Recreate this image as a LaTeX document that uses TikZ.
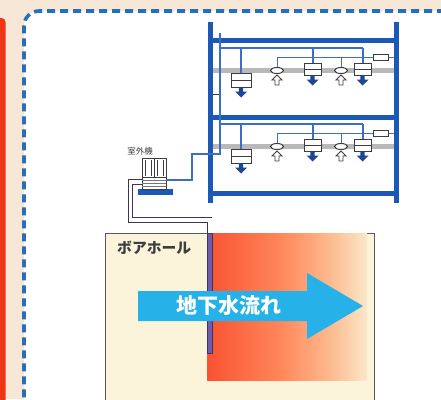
\documentclass[tikz,border=0pt]{standalone}
\usepackage{fontspec}
\newfontfamily\jp{Noto Sans CJK JP}
\definecolor{bgbeige}{RGB}{247,231,214}
\definecolor{barred}{RGB}{240,52,22}
\definecolor{frameblue}{RGB}{40,110,185}
\definecolor{bldblue}{RGB}{28,88,182}
\definecolor{feedblue}{RGB}{60,110,200}
\definecolor{unitgray}{RGB}{60,60,65}
\definecolor{arrowblue}{RGB}{28,70,150}
\definecolor{bandgray}{RGB}{185,185,188}
\definecolor{holefill}{RGB}{251,244,218}
\definecolor{holeline}{RGB}{90,90,90}
\definecolor{pipepurple}{RGB}{112,92,175}
\definecolor{pipeedge}{RGB}{60,55,90}
\definecolor{flowcyan}{RGB}{38,178,232}
\definecolor{heatA}{RGB}{250,82,50}
\definecolor{heatB}{RGB}{255,135,90}
\definecolor{heatC}{RGB}{253,188,145}
\definecolor{heatD}{RGB}{250,232,202}
\pgfdeclarehorizontalshading{heat}{100bp}{color(0bp)=(heatA); color(25bp)=(heatA);
  color(48bp)=(heatB); color(64bp)=(heatC); color(75bp)=(heatD); color(100bp)=(heatD)}
\tikzset{
  beam/.style={draw=bldblue, line width=5},
  column/.style={draw=bldblue, line width=4.5},
  feed/.style={draw=feedblue, line width=1.1},
  band/.style={draw=bandgray, line width=5},
  unitbox/.style={draw=unitgray, fill=white, line width=1},
  dnarrow/.pic={\fill[arrowblue] (-2.2,0) -- (2.2,0) -- (2.2,4) -- (6,4) -- (0,10) -- (-6,4) -- (-2.2,4) -- cycle;},
  uparrow/.pic={\draw[unitgray, fill=white, line width=0.8] (-2,10) -- (2,10) -- (2,5) -- (5,5) -- (0,0) -- (-5,5) -- (-2,5) -- cycle;},
}
\begin{document}
\begin{tikzpicture}[x=1pt,y=-1pt]
\useasboundingbox (0,0) rectangle (441,399);
% page background, side bar and dashed panel
\fill[bgbeige] (0,0) rectangle (441,399);
\fill[barred, rounded corners=4] (-6,18) rectangle (5.5,410);
\fill[white, rounded corners=15] (24,11) rectangle (460,420);
\draw[frameblue, line width=3.6, dash pattern=on 8 off 5, rounded corners=15] (445,11) -- (24,11) -- (24,405);

% borehole ground block with heat plume
\draw[holeline, fill=holefill, line width=0.8] (105,233) rectangle (374,410);
\shade[shading=heat] (207,233.4) rectangle (367,380);
\node[anchor=west, text=unitgray, font=\jp\bfseries\fontsize{14.8}{15}\selectfont, inner sep=0] (hole) at (117,248) {ボアホール};

% building floors
\foreach \d in {0,76}{
  \begin{scope}[shift={(0,\d)}]
    \draw[band] (213,70.5) -- (394,70.5);
    \draw[feed] (220,48) -- (363,48);
    \draw[feed] (241,48) -- (241,73);
    \draw[feed] (313,48) -- (313,63);
    \draw[feed] (363,48) -- (363,63);
    \draw[feed, line width=0.8] (277,57) -- (394,57);
    \draw[feed, line width=0.8] (277,57) -- (277,68);
    \draw[feed, line width=0.8] (341,57) -- (341,68);
    \draw[unitbox] (373,54) rectangle (388,60);
    % ceiling cassettes
    \draw[unitbox] (231,73) rectangle (251,87);
    \draw[unitgray, line width=0.8] (231,80) -- (251,80);
    \pic at (241,87.5) {dnarrow};
    \draw[unitbox] (304,63) rectangle (321,75);
    \draw[unitgray, line width=0.8] (304,69) -- (321,69);
    \pic at (312.5,75.5) {dnarrow};
    \draw[unitbox] (354,63) rectangle (371,75);
    \draw[unitgray, line width=0.8] (354,69) -- (371,69);
    \pic at (362.5,75.5) {dnarrow};
    % return grilles
    \draw[unitbox] (277,70.5) ellipse [x radius=6.5, y radius=3];
    \pic at (277,75) {uparrow};
    \draw[unitbox] (341,70.5) ellipse [x radius=6.5, y radius=3];
    \pic at (341,75) {uparrow};
  \end{scope}
}
\draw[column] (210.5,22) -- (210.5,203);
\draw[column] (396.5,22) -- (396.5,203);
\foreach \y in {40,117,193} \draw[beam] (210.5,\y) -- (396.5,\y);
\draw[unitgray, line width=0.7] (213,94) -- (220,94);

% outdoor unit
\node[font=\jp\fontsize{8.5}{9}\selectfont, text=unitgray, inner sep=0] (odlabel) at (140,151.5) {室外機};
\fill[bldblue] (138,189) rectangle (173,195);
\draw[unitbox] (142,158) rectangle (166,189);
\draw[unitgray, line width=0.7] (154,158) -- (154,177);
\draw[unitgray, line width=0.7] (142,177) -- (166,177);
\draw[unitgray, line width=0.5] (145,160) -- (145,176) (151,160) -- (151,176) (157,160) -- (157,176) (163,160) -- (163,176);
\foreach \y in {180.5,183.5,186.5} \draw[unitgray!70, line width=0.6] (142,\y) -- (166,\y);
\coordinate (odright) at (166,180);
\coordinate (odleft) at (142,182);

% refrigerant line to the building
\draw[feed] (odright) -- (192,180) -- (192,154) -- (220,154) -- (220,33);

% ground loop pipe
\coordinate (holetop) at (209.75,234);
\draw[pipeedge, line width=0.9, double=white, double distance=3.6] (odleft) -- (130.5,182) -- (130.5,220) -- (209.75,220) -- (holetop);
\draw[pipeedge, fill=pipepurple, line width=0.8] (207,233.4) rectangle (212.5,353);

% groundwater flow arrow
\fill[flowcyan] (138,291) -- (307,291) -- (307,273) -- (363,306) -- (307,339) -- (307,321) -- (138,321) -- cycle;
\node[text=white, font=\jp\bfseries\fontsize{21}{22}\selectfont, inner sep=0] (flow) at (228.5,306) {地下水流れ};
\end{tikzpicture}
\end{document}
